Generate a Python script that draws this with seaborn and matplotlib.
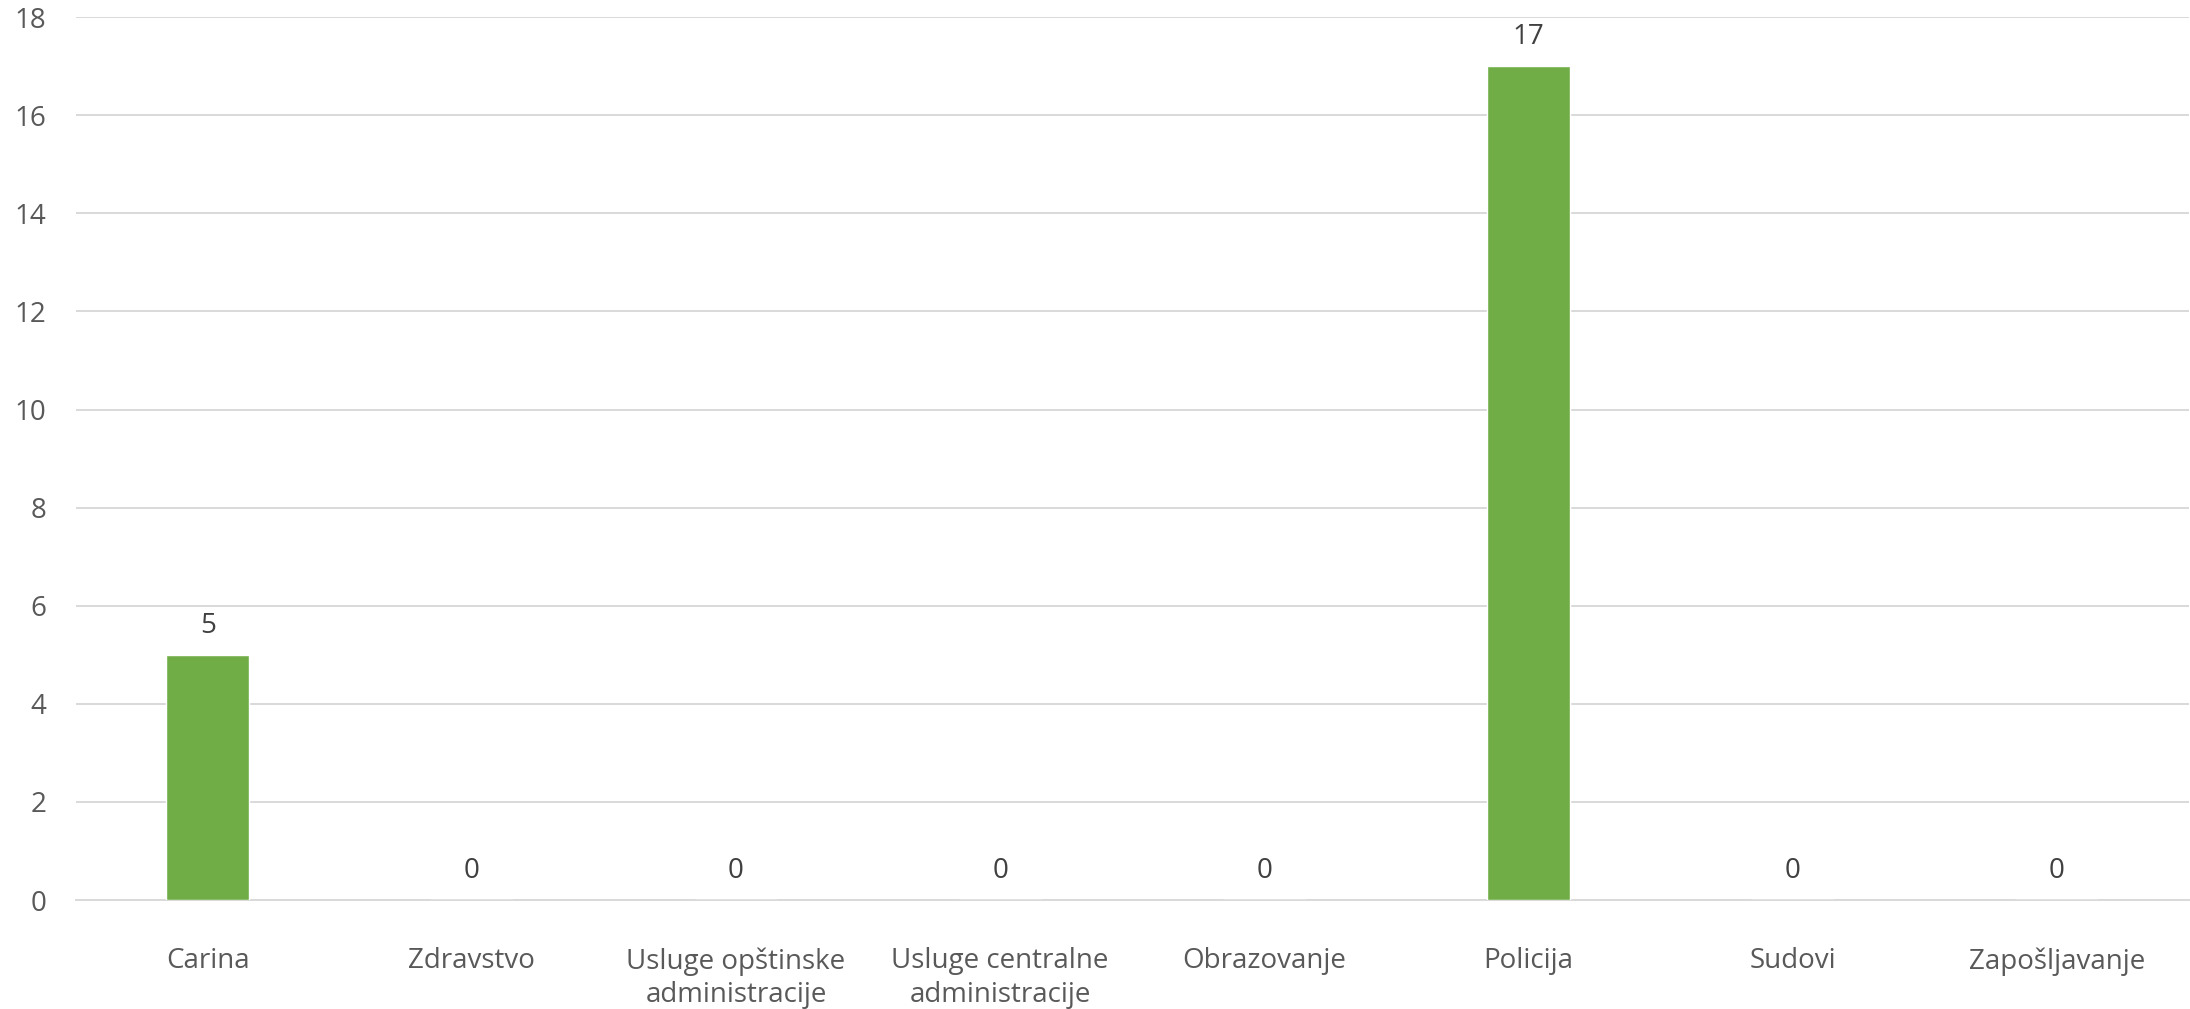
import matplotlib
matplotlib.use("Agg")
import matplotlib.pyplot as plt
import seaborn as sns
import pandas as pd

# --- Data ---
categories = ["Carina", "Zdravstvo", "Usluge opštinske\nadministracije",
              "Usluge centralne\nadministracije", "Obrazovanje", "Policija",
              "Sudovi", "Zapošljavanje"]
values = [5, 0, 0, 0, 0, 17, 0, 0]
y_ticks = list(range(0, 19, 2))

df = pd.DataFrame({"category": categories, "value": values})

# --- Style ---
sns.set_style("white")
plt.rcParams['font.family'] = ['Open Sans', 'DejaVu Sans']

fig = plt.figure(figsize=(21.9, 10.09), dpi=100)
ax = fig.add_axes([0.0345, 0.108, 0.9650, 0.875])

sns.barplot(data=df, x="category", y="value", color="#70AD47",
            width=0.314, saturation=1, ax=ax, zorder=3)

ax.bar_label(ax.containers[0], padding=11, fontsize=20, color="#404040")

# --- Axes ---
ax.set_ylim(0, 18)
ax.set_xlim(-0.5, 7.5)
ax.set_yticks(y_ticks)
ax.yaxis.grid(True, color="#D9D9D9", linewidth=1.4, zorder=0)
ax.set_axisbelow(True)
for side in ["top", "right", "left"]:
    ax.spines[side].set_visible(False)
ax.spines["bottom"].set_color("#D9D9D9")
ax.spines["bottom"].set_linewidth(1.4)
ax.tick_params(axis="y", length=0, pad=21, labelsize=20, labelcolor="#595959")
ax.tick_params(axis="x", length=0, pad=34, labelsize=20, labelcolor="#595959")
for lbl in ax.get_xticklabels():
    lbl.set_linespacing(1.25)
ax.set_xlabel("")
ax.set_ylabel("")

fig.savefig("out.png", dpi=100)
